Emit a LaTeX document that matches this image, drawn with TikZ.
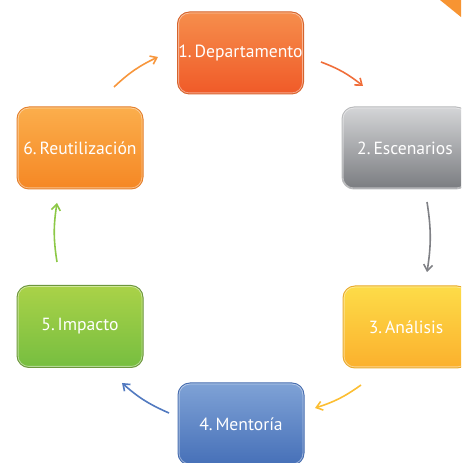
\documentclass[tikz,border=0pt]{standalone}
\usepackage{fontspec}
\setmainfont{PT Sans}
\usetikzlibrary{arrows.meta}
\definecolor{cAt}{RGB}{246,142,76}\definecolor{cAb}{RGB}{240,90,40}\definecolor{cAd}{RGB}{214,100,45}
\definecolor{cBt}{RGB}{212,213,215}\definecolor{cBb}{RGB}{122,124,128}\definecolor{cBd}{RGB}{185,186,188}
\definecolor{cCt}{RGB}{253,220,72}\definecolor{cCb}{RGB}{251,176,45}\definecolor{cCd}{RGB}{232,170,45}
\definecolor{cDt}{RGB}{127,162,214}\definecolor{cDb}{RGB}{70,112,184}\definecolor{cDd}{RGB}{72,110,176}
\definecolor{cEt}{RGB}{170,210,72}\definecolor{cEb}{RGB}{118,190,64}\definecolor{cEd}{RGB}{108,150,60}
\definecolor{cFt}{RGB}{251,174,76}\definecolor{cFb}{RGB}{245,135,36}\definecolor{cFd}{RGB}{228,128,45}
\definecolor{arA}{RGB}{240,110,58}\definecolor{arB}{RGB}{128,129,134}\definecolor{arC}{RGB}{252,190,50}
\definecolor{arD}{RGB}{82,122,192}\definecolor{arE}{RGB}{140,200,70}\definecolor{arF}{RGB}{247,150,60}
\definecolor{triC}{RGB}{247,148,50}
\tikzset{
  stepbox/.style n args={3}{rectangle, rounded corners=12pt, minimum width=126pt, minimum height=82pt,
    inner sep=0pt, top color=#1, bottom color=#2, draw=#3, line width=1pt, text=white,
    font=\fontsize{17.6}{20}\selectfont},
  flow/.style={line width=1.6pt, -{Straight Barb[length=6pt,width=9pt,line width=1.6pt]}, bend left=9},
  gloss/.style={draw=white, draw opacity=0.45, line width=0.8pt, rounded corners=10.5pt}
}
\begin{document}
\begin{tikzpicture}[x=1pt,y=1pt]
\clip (0,0) rectangle (461,463);
\fill[triC] (440,463) -- (461,463) -- (461,446) -- cycle;
\node[stepbox={cAt}{cAb}{cAd}] (b1) at (240.5,410) {1.\,Departamento};
\node[stepbox={cBt}{cBb}{cBd}] (b2) at (405,315) {2.\,Escenarios};
\node[stepbox={cCt}{cCb}{cCd}] (b3) at (406,136) {3.\,Análisis};
\node[stepbox={cDt}{cDb}{cDd}] (b4) at (241,39) {4.\,Mentoría};
\node[stepbox={cEt}{cEb}{cEd}] (b5) at (80,136.5) {5.\,Impacto};
\node[stepbox={cFt}{cFb}{cFd}] (b6) at (80,315) {6.\,Reutilización};
\foreach \b in {b1,b2,b3,b4,b5,b6}{
  \draw[gloss] ([shift={(1.6pt,1.6pt)}]\b.south west) rectangle ([shift={(-1.6pt,-1.6pt)}]\b.north east);
}
\coordinate (a1s) at (321,401); \coordinate (a1e) at (363,377);
\coordinate (a2s) at (427,261); \coordinate (a2e) at (427,191);
\coordinate (a3s) at (361,78);  \coordinate (a3e) at (315,55);
\coordinate (a4s) at (169,50);  \coordinate (a4e) at (122,80);
\coordinate (a5s) at (57,201);  \coordinate (a5e) at (57,260);
\coordinate (a6s) at (114,376); \coordinate (a6e) at (158,406);
\draw[flow, arA] (a1s) to (a1e);
\draw[flow, arB] (a2s) to (a2e);
\draw[flow, arC] (a3s) to (a3e);
\draw[flow, arD] (a4s) to (a4e);
\draw[flow, arE] (a5s) to (a5e);
\draw[flow, arF] (a6s) to (a6e);
\end{tikzpicture}
\end{document}
